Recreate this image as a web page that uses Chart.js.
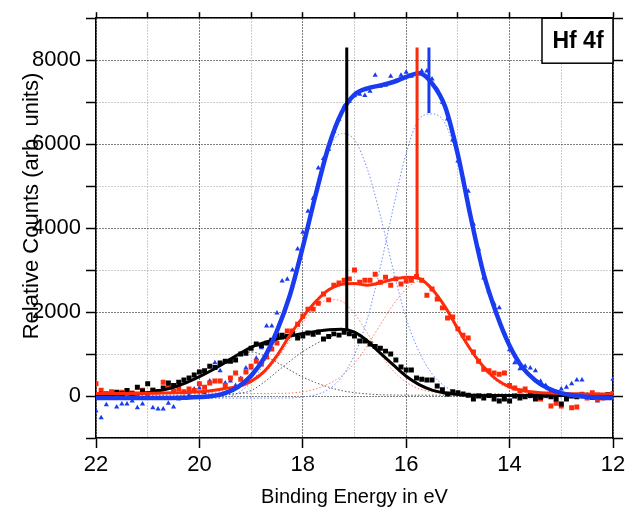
<!DOCTYPE html>
<html>
<head>
<meta charset="utf-8">
<script src="https://cdn.jsdelivr.net/npm/chart.js@4.4.1/dist/chart.umd.min.js"></script>
<style>
  html, body { margin: 0; padding: 0; background: #fff; }
  #wrap { width: 631px; height: 509px; position: relative; }
</style>
</head>
<body>
<div id="wrap"><canvas id="hf4f"></canvas></div>
<script>
// measured points, binding energy in eV (read left to right)
const pointEnergy = [22.0,21.9,21.8,21.7,21.6,21.5,21.4,21.3,21.2,21.1,
  21.0,20.9,20.8,20.7,20.6,20.5,20.4,20.3,20.2,20.1,
  20.0,19.9,19.8,19.7,19.6,19.5,19.4,19.3,19.2,19.1,
  19.0,18.9,18.8,18.7,18.6,18.5,18.4,18.3,18.2,18.1,
  18.0,17.9,17.8,17.7,17.6,17.5,17.4,17.3,17.2,17.1,
  17.0,16.9,16.8,16.7,16.6,16.5,16.4,16.3,16.2,16.1,
  16.0,15.9,15.8,15.7,15.6,15.5,15.4,15.3,15.2,15.1,
  15.0,14.9,14.8,14.7,14.6,14.5,14.4,14.3,14.2,14.1,
  14.0,13.9,13.8,13.7,13.6,13.5,13.4,13.3,13.2,13.1,
  13.0,12.9,12.8,12.7,12.6,12.5,12.4,12.3,12.2,12.1,
  12.0];
const blackCounts = [20,40,30,20,90,60,130,50,210,120,
  290,140,110,190,310,250,330,380,430,500,
  570,600,710,680,790,830,830,860,1000,1020,
  1140,1240,1200,1260,1330,1450,1450,1420,1480,1380,
  1430,1500,1470,1520,1360,1420,1480,1450,1520,1480,
  1430,1310,1310,1240,1180,1140,1070,1000,860,690,
  620,620,430,400,380,380,240,150,50,100,
  80,50,20,-70,0,-50,10,-70,-120,-70,
  -120,0,-50,-20,10,-70,-30,20,-20,-70,
  -190,-70,0,-20,20,10,-30,20,0,30,
  10];
const redCounts = [290,140,60,100,40,90,120,70,50,140,
  60,140,100,330,210,120,180,100,170,130,
  290,210,310,360,360,250,430,550,400,570,
  710,830,760,930,1120,1260,1400,1550,1550,1710,
  1900,2070,2070,2210,2430,2290,2640,2690,2760,2790,
  3000,2710,2760,2760,2900,2710,2830,2640,2790,2670,
  2740,2760,2850,2760,2400,2550,2310,2100,1860,1880,
  1600,1450,1380,1050,830,640,600,550,520,550,
  250,190,120,170,60,40,-70,20,-240,-170,
  -240,30,-280,-260,40,-50,80,-70,-50,20,
  60];
const blueCounts = [-350,-520,-210,-50,-260,-190,-190,-120,-280,-190,
  -50,-280,-310,-310,-170,-260,-70,-40,20,170,
  190,80,360,790,600,310,360,250,420,670,
  670,900,1150,1670,1670,1980,2740,2780,3000,3500,
  3900,4400,4710,5430,5660,5880,6300,6590,6900,7020,
  7150,7190,7160,7260,7640,7380,7400,7620,7500,7640,
  7710,7620,7690,7740,7740,7550,7300,7000,6600,6100,
  5600,5200,4880,4100,3500,2810,2500,2200,2100,1500,
  1100,790,650,710,670,600,350,250,120,80,
  170,210,290,380,380,30,-40,-120,-30,-50,
  400];

// fitted envelopes and their two components
const fitEnergy = [22,21.75,21.5,21.25,21,20.75,20.5,20.25,20,19.75,19.5,19.25,19,18.75,18.5,18.25,18,17.75,17.5,17.25,
  17,16.75,16.5,16.25,16,15.75,15.5,15.25,15,14.75,14.5,14.25,14,13.75,13.5,13.25,13,12.75,12.5,12.25,12];
const blackFit = [40,40,45,55,80,130,210,320,460,620,800,990,1160,1270,1360,1430,1490,1540,1580,1590,
  1520,1310,1020,740,470,270,140,70,35,20,15,10,10,10,10,10,10,10,10,10,10];
const blackPeakA = [20,25,30,50,80,130,210,320,460,620,790,950,1050,960,800,620,450,320,210,130,
  80,50,32,25,20,20,20,20,20,20,20,20,20,20,20,20,20,20,20,20,20];
const blackPeakB = [20,20,20,20,20,20,20,20,20,20,30,60,130,330,580,830,1060,1240,1390,1480,
  1460,1280,1008,735,470,270,140,70,35,20,20,20,20,20,20,20,20,20,20,20,20];
const redFit = [60,60,60,62,65,70,75,85,100,130,180,230,350,580,960,1450,1880,2250,2530,2660,
  2680,2640,2700,2780,2830,2800,2550,2130,1600,1100,690,390,220,130,90,70,60,55,50,50,50];
const redPeakA = [60,60,60,60,60,60,60,60,70,85,120,200,330,540,880,1330,1760,2100,2300,2260,
  1960,1500,1000,600,330,170,100,70,60,60,60,60,60,60,60,60,60,60,60,60,60];
const redPeakB = [60,60,60,60,60,60,60,60,60,60,60,60,60,60,62,70,100,170,290,480,
  780,1200,1700,2180,2550,2740,2500,2080,1560,1060,650,340,180,100,70,60,55,55,50,50,50];
const blueFit = [-50,-50,-50,-50,-50,-50,-45,-40,-25,0,70,220,480,900,1550,2400,3550,4800,5950,6750,
  7180,7330,7400,7480,7600,7690,7450,6900,5750,4250,2900,1950,1200,680,370,180,70,10,-20,-40,-50];
const bluePeakA = [-50,-50,-50,-50,-50,-50,-50,-50,-50,-45,-30,80,330,780,1480,2450,3650,4900,5880,6250,
  6100,5400,4300,3000,1850,1050,530,230,70,0,-30,-45,-50,-50,-50,-50,-50,-50,-50,-50,-50];
const bluePeakB = [-50,-50,-50,-50,-50,-50,-50,-50,-50,-50,-50,-50,-50,-50,-50,-45,-25,30,160,450,
  980,1850,3070,4480,5780,6600,6720,6500,5600,4250,2850,1900,1150,630,320,130,20,-20,-40,-50,-50];

// peak position markers (black, red, blue)
const markerEnergy = [17.15, 15.79, 15.56];
const markerLow = [1560, 2820, 6740];
const markerHigh = [8300, 8300, 8300];

const yTickLabels = [0, 2000, 4000, 6000, 8000];

const BLACK = '#000000';
const RED = '#ff2a0a';
const BLUE = '#1a3cf0';
const FONT = '"Liberation Sans", Arial, sans-serif';

const pts = (xs, ys) => xs.map((x, i) => ({x: x, y: ys[i]}));

function fitLine(data, color, width, order) {
  return {data: pts(fitEnergy, data), showLine: true, borderColor: color, borderWidth: width,
    pointRadius: 0, cubicInterpolationMode: 'monotone', order: order};
}
function component(data, color) {
  return {data: pts(fitEnergy, data), showLine: true, borderColor: color, borderWidth: 1,
    borderDash: [1.5, 2], pointRadius: 0, cubicInterpolationMode: 'monotone', order: 6};
}
function marker(i, color) {
  return {data: [{x: markerEnergy[i], y: markerLow[i]}, {x: markerEnergy[i], y: markerHigh[i]}],
    showLine: true, borderColor: color, borderWidth: 3, pointRadius: 0, order: 0};
}
function points(data, color, style, r) {
  return {data: pts(pointEnergy, data), showLine: false, pointStyle: style, pointRadius: r,
    pointBackgroundColor: color, pointBorderColor: color, pointBorderWidth: 0, order: 5};
}

const datasets = [
  component(blackPeakA, '#555555'), component(blackPeakB, '#555555'),
  component(redPeakA, '#ff7a66'), component(redPeakB, '#ff7a66'),
  component(bluePeakA, '#6f8cff'), component(bluePeakB, '#6f8cff'),
  points(blackCounts, BLACK, 'rect', 3.5),
  points(redCounts, RED, 'rect', 3.5),
  points(blueCounts, BLUE, 'triangle', 3),
  fitLine(blueFit, BLUE, 4.5, 1),
  fitLine(redFit, RED, 3, 2),
  fitLine(blackFit, BLACK, 3, 3),
  marker(0, BLACK), marker(1, RED), marker(2, BLUE)
];

const annotate = {
  id: 'annotate',
  afterDraw(chart) {
    const ctx = chart.ctx;
    const a = chart.chartArea;
    ctx.save();
    ctx.fillStyle = '#fff';
    ctx.fillRect(a.right - 71, a.top, 71, 45);
    ctx.strokeStyle = '#000';
    ctx.lineWidth = 1.5;
    ctx.strokeRect(a.right - 71, a.top, 71, 45);
    ctx.fillStyle = '#000';
    ctx.textAlign = 'center';
    ctx.textBaseline = 'middle';
    ctx.font = 'bold 23px ' + FONT;
    ctx.fillText('Hf 4f', a.right - 35, a.top + 23);
    ctx.font = '20px ' + FONT;
    ctx.fillText('Binding Energy in eV', (a.left + a.right) / 2, 497);
    ctx.translate(32, 206);
    ctx.rotate(-Math.PI / 2);
    ctx.font = '22px ' + FONT;
    ctx.fillText('Relative Counts (arb. units)', 0, 0);
    ctx.restore();
  }
};

const dotted = {display: true, color: '#000', width: 1.5, dash: [1, 2]};

new Chart(document.getElementById('hf4f'), {
  type: 'scatter',
  data: {datasets: datasets},
  plugins: [annotate],
  options: {
    responsive: true,
    maintainAspectRatio: false,
    animation: false,
    devicePixelRatio: 1,
    layout: {padding: 0},
    plugins: {legend: {display: false}, tooltip: {enabled: false}},
    scales: {
      x: {
        type: 'linear', position: 'bottom', min: 12, max: 22, reverse: true,
        ticks: {stepSize: 2, autoSkip: false, maxRotation: 0, padding: 4, color: '#000',
          font: {family: FONT, size: 22}},
        grid: {drawOnChartArea: false, tickLength: 10, tickColor: '#000', tickWidth: 1.5},
        border: {display: true, color: '#000', width: 1.5},
        afterFit: s => { s.height = 71; }
      },
      x2: {
        type: 'linear', position: 'top', min: 12, max: 22, reverse: true,
        ticks: {stepSize: 1, display: false},
        grid: {drawOnChartArea: true, lineWidth: 1,
          color: c => (c.tick.value % 2 === 0 ? '#000' : '#9a9a9a'),
          tickLength: 6, tickColor: '#000', tickWidth: 1.5},
        border: dotted,
        afterFit: s => { s.height = 16; }
      },
      y: {
        type: 'linear', position: 'left', min: -1000, max: 9000,
        ticks: {stepSize: 1000, padding: 5, color: '#000', font: {family: FONT, size: 22},
          callback: v => (yTickLabels.includes(v) ? String(v) : '')},
        grid: {drawOnChartArea: true, lineWidth: 1,
          color: c => (c.tick.value % 2000 === 0 ? '#000' : '#9a9a9a'),
          tickLength: 10, tickColor: '#000', tickWidth: 1.5},
        border: dotted,
        afterFit: s => { s.width = 96; }
      },
      y2: {
        type: 'linear', position: 'right', min: -1000, max: 9000,
        ticks: {stepSize: 1000, display: false},
        grid: {drawOnChartArea: false, tickLength: 10, tickColor: '#000', tickWidth: 1.5},
        border: {display: true, color: '#000', width: 1.5},
        afterFit: s => { s.width = 18; }
      }
    }
  }
});
</script>
</body>
</html>
